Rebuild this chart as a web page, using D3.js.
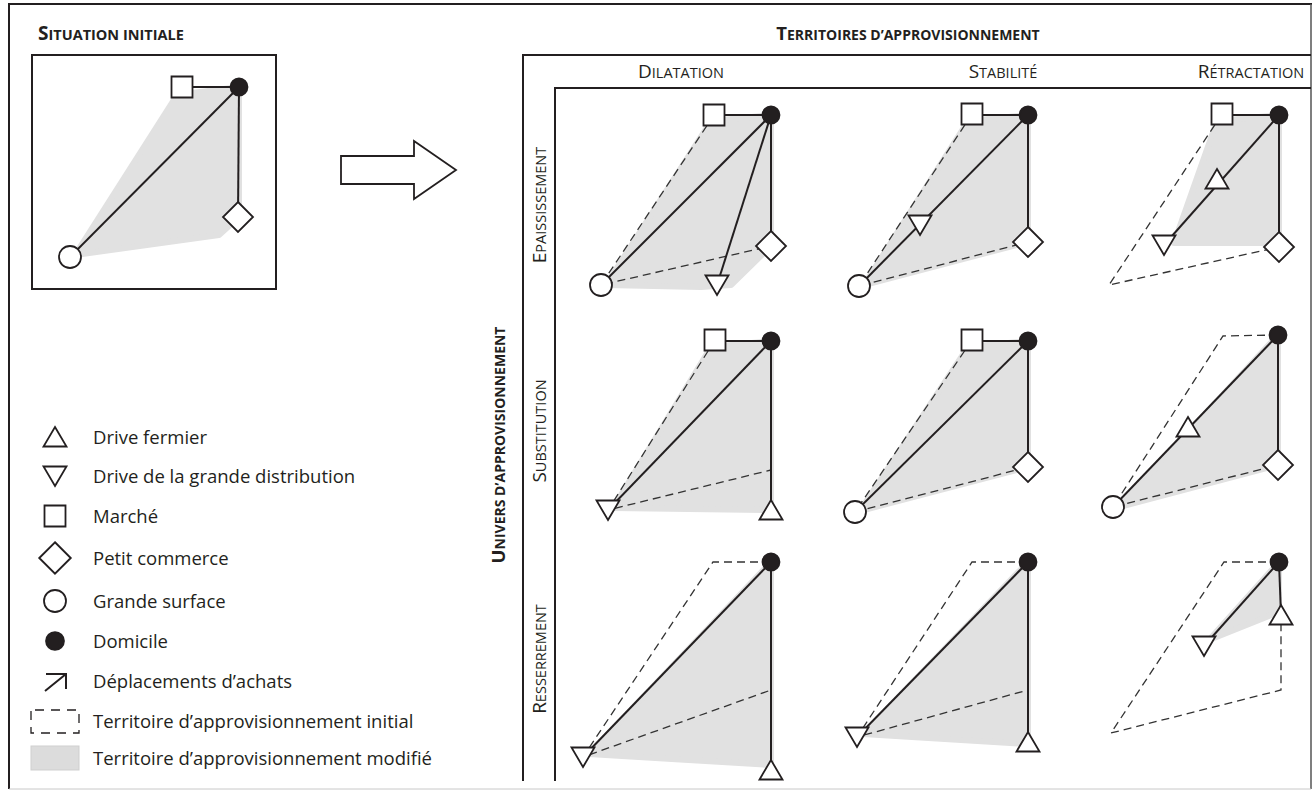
<!DOCTYPE html>
<html><head><meta charset="utf-8">
<script src="https://cdn.jsdelivr.net/npm/d3@7"></script>
<style>
body{margin:0;background:#fff}
svg{display:block}
text{font-family:"Open Sans",sans-serif;fill:#231f20}
</style>
</head><body>
<svg id="chart" width="1315" height="793"></svg>
<script>
// ---------- DATA ----------
const columns = ["Dilatation", "Stabilité", "Rétractation"];
const rows = ["Epaississement", "Substitution", "Resserrement"];
const initialTitle = "Situation initiale";
const columnsTitle = "Territoires d’approvisionnement";
const rowsTitle = "Univers d’approvisionnement";

const legendTypes = ["upTri", "downTri", "square", "diamond", "circle", "home", "trip", "initial", "modified"];
const legendLabels = ["Drive fermier", "Drive de la grande distribution", "Marché", "Petit commerce",
  "Grande surface", "Domicile", "Déplacements d’achats",
  "Territoire d’approvisionnement initial", "Territoire d’approvisionnement modifié"];

// schema units: origin = domicile, x to the right, y downward
const nodes = [
  {p:"init", t:"square", x:-57, y:0}, {p:"init", t:"diamond", x:-1, y:130}, {p:"init", t:"circle", x:-169, y:170}, {p:"init", t:"home", x:0, y:0},
  {p:"0-0", t:"square", x:-57, y:0}, {p:"0-0", t:"diamond", x:0, y:131}, {p:"0-0", t:"circle", x:-170, y:170}, {p:"0-0", t:"downTri", x:-54, y:170}, {p:"0-0", t:"home", x:0, y:0},
  {p:"0-1", t:"square", x:-56, y:-1}, {p:"0-1", t:"diamond", x:0, y:127}, {p:"0-1", t:"circle", x:-169, y:171}, {p:"0-1", t:"downTri", x:-108, y:110}, {p:"0-1", t:"home", x:0, y:0},
  {p:"0-2", t:"square", x:-57, y:-1}, {p:"0-2", t:"diamond", x:0, y:132}, {p:"0-2", t:"upTri", x:-62, y:64}, {p:"0-2", t:"downTri", x:-115, y:130}, {p:"0-2", t:"home", x:0, y:0},
  {p:"1-0", t:"square", x:-56, y:-1}, {p:"1-0", t:"upTri", x:0, y:169}, {p:"1-0", t:"downTri", x:-163, y:169}, {p:"1-0", t:"home", x:0, y:0},
  {p:"1-1", t:"square", x:-56, y:-1}, {p:"1-1", t:"diamond", x:0, y:126}, {p:"1-1", t:"circle", x:-173, y:171}, {p:"1-1", t:"home", x:0, y:0},
  {p:"1-2", t:"diamond", x:-1, y:124}, {p:"1-2", t:"circle", x:-166, y:166}, {p:"1-2", t:"upTri", x:-91, y:86}, {p:"1-2", t:"home", x:-1, y:-6},
  {p:"2-0", t:"upTri", x:0, y:208}, {p:"2-0", t:"downTri", x:-188, y:195}, {p:"2-0", t:"home", x:0, y:0},
  {p:"2-1", t:"upTri", x:0, y:180}, {p:"2-1", t:"downTri", x:-171, y:175}, {p:"2-1", t:"home", x:0, y:0},
  {p:"2-2", t:"upTri", x:2, y:53}, {p:"2-2", t:"downTri", x:-75, y:84}, {p:"2-2", t:"home", x:0, y:0}
];

// shopping trips: from domicile to a destination
const trips = [
  {p:"init", x1:0, y1:0, x2:-57, y2:0}, {p:"init", x1:0, y1:0, x2:-169, y2:170}, {p:"init", x1:0, y1:0, x2:-1, y2:130},
  {p:"0-0", x1:0, y1:0, x2:-57, y2:0}, {p:"0-0", x1:0, y1:0, x2:-170, y2:170}, {p:"0-0", x1:0, y1:0, x2:-54, y2:170}, {p:"0-0", x1:0, y1:0, x2:0, y2:131},
  {p:"0-1", x1:0, y1:0, x2:-56, y2:0}, {p:"0-1", x1:0, y1:0, x2:-169, y2:171}, {p:"0-1", x1:0, y1:0, x2:0, y2:127},
  {p:"0-2", x1:0, y1:0, x2:-57, y2:0}, {p:"0-2", x1:0, y1:0, x2:-115, y2:130}, {p:"0-2", x1:0, y1:0, x2:0, y2:132},
  {p:"1-0", x1:0, y1:0, x2:-56, y2:0}, {p:"1-0", x1:0, y1:0, x2:-163, y2:169}, {p:"1-0", x1:0, y1:0, x2:0, y2:169},
  {p:"1-1", x1:0, y1:0, x2:-56, y2:0}, {p:"1-1", x1:0, y1:0, x2:-173, y2:171}, {p:"1-1", x1:0, y1:0, x2:0, y2:126},
  {p:"1-2", x1:-1, y1:-6, x2:-166, y2:166}, {p:"1-2", x1:-1, y1:-6, x2:-1, y2:124},
  {p:"2-0", x1:0, y1:0, x2:-188, y2:195}, {p:"2-0", x1:0, y1:0, x2:0, y2:208},
  {p:"2-1", x1:0, y1:0, x2:-171, y2:175}, {p:"2-1", x1:0, y1:0, x2:0, y2:180},
  {p:"2-2", x1:0, y1:0, x2:-75, y2:84}, {p:"2-2", x1:0, y1:0, x2:2, y2:53}
];

// initial supply territory (dashed outline)
const initialTerritory = [
  {p:"0-0", pts:[[-57,0],[-170,170],[0,131]]},
  {p:"0-1", pts:[[-56,-1],[-169,171],[0,127]]},
  {p:"0-2", pts:[[-57,-1],[-170,170],[0,132]]},
  {p:"1-0", pts:[[-56,-1],[-163,169],[0,129]]},
  {p:"1-1", pts:[[-56,-1],[-173,171],[0,126]]},
  {p:"1-2", pts:[[-1,-6],[-56,-5],[-166,166],[-1,124]]},
  {p:"2-0", pts:[[0,0],[-58,0],[-188,195],[0,128]]},
  {p:"2-1", pts:[[0,0],[-56,0],[-171,175],[0,128]]},
  {p:"2-2", pts:[[0,0],[-55,0],[-168,171],[2,128],[2,53]]}
];

// modified supply territory (grey area)
const modifiedTerritory = [
  {p:"init", pts:[[-62,8],[0,0],[0,130],[-20,148],[-164,168]]},
  {p:"0-0", pts:[[-60,6],[0,0],[0,131],[-40,170],[-70,172],[-165,170]]},
  {p:"0-1", pts:[[-60,6],[0,0],[0,127],[-164,170]]},
  {p:"0-2", pts:[[-62,6],[0,0],[0,128],[-105,128]]},
  {p:"1-0", pts:[[-60,6],[0,0],[0,169],[-158,167]]},
  {p:"1-1", pts:[[-60,6],[0,0],[0,126],[-168,170]]},
  {p:"1-2", pts:[[-1,-6],[-1,124],[-160,166]]},
  {p:"2-0", pts:[[0,0],[0,203],[-182,192]]},
  {p:"2-1", pts:[[0,0],[0,182],[-165,172]]},
  {p:"2-2", pts:[[0,0],[0,50],[-70,78]]}
];

// ---------- LAYOUT ----------
const colAnchor = [771, 1028, 1279];
const rowAnchor = [115, 341, 562];
const initAnchor = [239, 87];
const ink = "#231f20";
const grey = "#e1e1e1";

const svg = d3.select("#chart");

function panelScales(p) {
  let ax, ay;
  if (p === "init") { [ax, ay] = initAnchor; }
  else { const [r, c] = p.split("-").map(Number); ax = colAnchor[c]; ay = rowAnchor[r]; }
  return {
    x: d3.scaleLinear().domain([-170, 0]).range([ax - 170, ax]),
    y: d3.scaleLinear().domain([0, 170]).range([ay, ay + 170])
  };
}

function symbolPath(t) {
  switch (t) {
    case "square": return "M-10.5,-10.5H10.5V10.5H-10.5Z";
    case "diamond": return "M0,-15L15,0L0,15L-15,0Z";
    case "upTri": return "M0,-10L11.5,9.5H-11.5Z";
    case "downTri": return "M0,10L11.5,-9.5H-11.5Z";
    case "circle": return d3.arc()({innerRadius:0, outerRadius:11, startAngle:0, endAngle:2*Math.PI});
    case "home": return d3.arc()({innerRadius:0, outerRadius:8.5, startAngle:0, endAngle:2*Math.PI});
  }
}

function drawSymbol(g, t, x, y) {
  g.append("path").attr("d", symbolPath(t))
    .attr("transform", `translate(${x},${y})`)
    .attr("fill", t === "home" ? ink : "#fff")
    .attr("stroke", ink).attr("stroke-width", 1.8)
    .attr("stroke-linejoin", "miter");
}

function smallCaps(sel, text, big, small) {
  sel.append("tspan").attr("font-size", big).text(text[0].toUpperCase());
  sel.append("tspan").attr("font-size", small).text(text.slice(1).toUpperCase());
  return sel;
}

// outer frame
svg.append("line").attr("x1", 9).attr("y1", 3).attr("x2", 9).attr("y2", 789).attr("stroke", ink).attr("stroke-width", 2);
svg.append("line").attr("x1", 8).attr("y1", 4).attr("x2", 1312).attr("y2", 4).attr("stroke", ink).attr("stroke-width", 2);
svg.append("line").attr("x1", 1311).attr("y1", 4).attr("x2", 1311).attr("y2", 789).attr("stroke", "#555").attr("stroke-width", 1.5);
svg.append("line").attr("x1", 9).attr("y1", 789).attr("x2", 1311).attr("y2", 789).attr("stroke", "#c8c8c8").attr("stroke-width", 1);

// initial situation title and box
smallCaps(svg.append("text").attr("x", 38).attr("y", 40).attr("font-weight", 700), initialTitle, 19, 14.5);
svg.append("rect").attr("x", 32).attr("y", 55).attr("width", 244).attr("height", 234)
  .attr("fill", "none").attr("stroke", ink).attr("stroke-width", 2);

// big arrow
svg.append("path").attr("d", "M341,156H414V141L456,170L414,199V184H341Z")
  .attr("fill", "#fff").attr("stroke", ink).attr("stroke-width", 1.8).attr("stroke-linejoin", "miter");

// grid frame
svg.append("line").attr("x1", 523).attr("y1", 55).attr("x2", 1311).attr("y2", 55).attr("stroke", ink).attr("stroke-width", 2);
svg.append("line").attr("x1", 523).attr("y1", 54).attr("x2", 523).attr("y2", 781).attr("stroke", ink).attr("stroke-width", 2);
svg.append("line").attr("x1", 555).attr("y1", 88).attr("x2", 1311).attr("y2", 88).attr("stroke", ink).attr("stroke-width", 2);
svg.append("line").attr("x1", 555).attr("y1", 87).attr("x2", 555).attr("y2", 781).attr("stroke", ink).attr("stroke-width", 2);

smallCaps(svg.append("text").attr("x", 908).attr("y", 40).attr("text-anchor", "middle").attr("font-weight", 700), columnsTitle, 18.5, 14);

const headerX = [681, 1003, 1251];
columns.forEach((c, i) => {
  smallCaps(svg.append("text").attr("x", headerX[i]).attr("y", 78).attr("text-anchor", "middle"), c, 19, 14.5);
});
const rowLabelY = [205, 431, 659];
rows.forEach((r, i) => {
  smallCaps(svg.append("text").attr("transform", `translate(546,${rowLabelY[i]}) rotate(-90)`).attr("text-anchor", "middle"), r, 19, 14.5);
});
smallCaps(svg.append("text").attr("transform", `translate(505,445) rotate(-90)`).attr("text-anchor", "middle").attr("font-weight", 700), rowsTitle, 18.5, 14);

// panels
const panelIds = ["init"].concat(d3.cross(d3.range(3), d3.range(3)).map(([r, c]) => `${r}-${c}`));
const line = d3.line();
panelIds.forEach(p => {
  const s = panelScales(p);
  const g = svg.append("g");
  modifiedTerritory.filter(d => d.p === p).forEach(d => {
    g.append("path").attr("d", line(d.pts.map(([x, y]) => [s.x(x), s.y(y)])) + "Z")
      .attr("fill", grey).attr("stroke", grey).attr("stroke-width", 6).attr("stroke-linejoin", "round");
  });
  initialTerritory.filter(d => d.p === p).forEach(d => {
    g.append("path").attr("d", line(d.pts.map(([x, y]) => [s.x(x), s.y(y)])))
      .attr("fill", "none").attr("stroke", "#333").attr("stroke-width", 1.3).attr("stroke-dasharray", "8,5");
  });
  trips.filter(d => d.p === p).forEach(d => {
    g.append("line").attr("x1", s.x(d.x1)).attr("y1", s.y(d.y1)).attr("x2", s.x(d.x2)).attr("y2", s.y(d.y2))
      .attr("stroke", ink).attr("stroke-width", 2);
  });
  nodes.filter(d => d.p === p).forEach(d => drawSymbol(g, d.t, s.x(d.x), s.y(d.y)));
});

// legend
const legendY = [437, 476, 516, 558, 601, 641, 681, 721, 758];
legendTypes.forEach((t, i) => {
  const y = legendY[i];
  if (t === "trip") {
    svg.append("path").attr("d", `M45,${y + 10}L66,${y - 7}M46,${y - 7}H66V${y + 8}`)
      .attr("fill", "none").attr("stroke", ink).attr("stroke-width", 2);
  } else if (t === "initial") {
    svg.append("rect").attr("x", 31).attr("y", y - 11).attr("width", 48).attr("height", 23)
      .attr("fill", "none").attr("stroke", ink).attr("stroke-width", 1.3).attr("stroke-dasharray", "9,7").attr("stroke-dashoffset", -4);
  } else if (t === "modified") {
    svg.append("rect").attr("x", 31).attr("y", y - 12).attr("width", 48).attr("height", 24)
      .attr("fill", "#dcdcdc").attr("stroke", "#cfcfcf").attr("stroke-width", 1);
  } else {
    const sc = t === "diamond" ? 1.05 : (t === "home" ? 1.05 : 1.0);
    svg.append("path").attr("d", symbolPath(t))
      .attr("transform", `translate(55,${y}) scale(${sc})`)
      .attr("fill", t === "home" ? ink : "#fff").attr("stroke", ink).attr("stroke-width", 1.8);
  }
  svg.append("text").attr("x", 93).attr("y", y + 6.5).attr("font-size", 18.5).text(legendLabels[i]);
});
</script>
</body></html>
